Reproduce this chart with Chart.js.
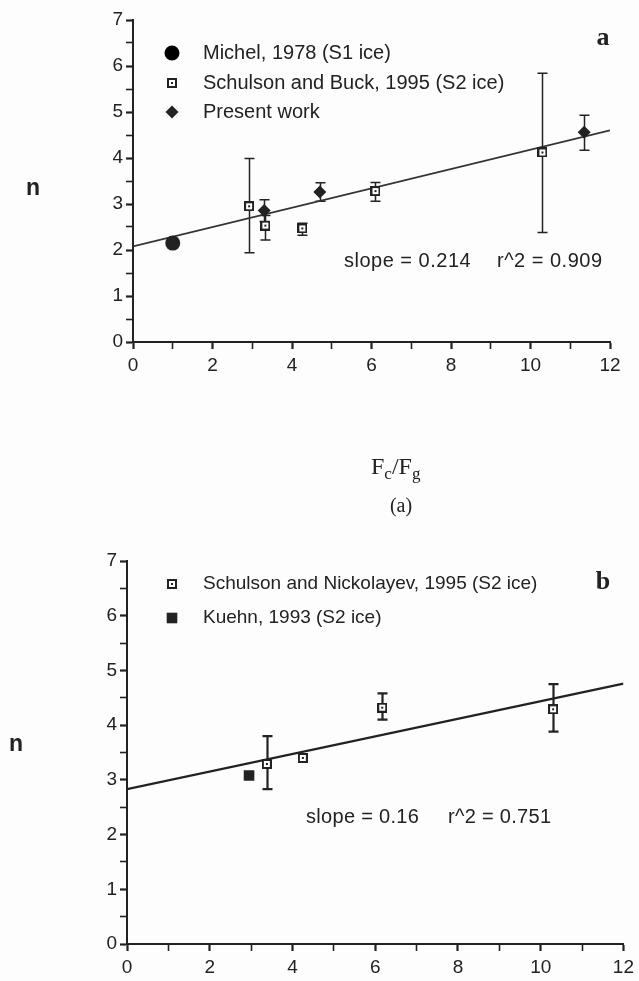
<!DOCTYPE html>
<html>
<head>
<meta charset="utf-8">
<script src="https://cdn.jsdelivr.net/npm/chart.js@4.4.0/dist/chart.umd.min.js"></script>
<style>
  html, body { margin: 0; padding: 0; background: #fdfdfd; }
  body { width: 639px; height: 981px; position: relative; overflow: hidden; }
  canvas { position: absolute; left: 0; }
  #chartA { top: 0; }
  #chartB { top: 530px; }
</style>
</head>
<body>
<canvas id="chartA" width="639" height="530"></canvas>
<canvas id="chartB" width="639" height="451"></canvas>
<script>
// ---- panel (a) ----
const michelX = [1.0];
const michelY = [2.15];
const buckX = [2.92, 3.33, 4.26, 6.1, 10.3];
const buckY = [2.95, 2.53, 2.47, 3.28, 4.12];
const buckLow = [1.94, 2.22, 2.32, 3.06, 2.38];
const buckHigh = [3.99, 2.75, 2.58, 3.47, 5.84];
const presentX = [3.3, 4.7, 11.35];
const presentY = [2.86, 3.26, 4.56];
const presentLow = [2.62, 3.06, 4.17];
const presentHigh = [3.09, 3.46, 4.93];
const fitAX = [0, 12];
const fitAY = [2.08, 4.6];

// ---- panel (b) ----
const nickX = [3.38, 4.25, 6.17, 10.3];
const nickY = [3.29, 3.4, 4.32, 4.29];
const nickLow = [2.83, null, 4.1, 3.88];
const nickHigh = [3.8, null, 4.58, 4.75];
const kuehnX = [2.95];
const kuehnY = [3.08];
const fitBX = [0, 12];
const fitBY = [2.83, 4.76];

const xTicks = [0, 2, 4, 6, 8, 10, 12];
const yTicks = [0, 1, 2, 3, 4, 5, 6, 7];

const ink = '#222';
const sans = "'Liberation Sans', Arial, sans-serif";
const serif = "'Liberation Serif', 'Times New Roman', serif";

const pts = (xs, ys) => xs.map((x, i) => ({ x: x, y: ys[i] }));

// open square with a dot in the middle
function openSquare(size) {
  const c = document.createElement('canvas');
  c.width = size; c.height = size;
  const g = c.getContext('2d');
  g.fillStyle = '#fff';
  g.fillRect(0, 0, size, size);
  g.strokeStyle = ink;
  g.lineWidth = 2;
  g.strokeRect(1, 1, size - 2, size - 2);
  g.fillStyle = ink;
  g.fillRect(size / 2 - 1, size / 2 - 1, 2, 2);
  return c;
}
const squareMark = openSquare(10);

const errorBars = {
  id: 'errorBars',
  beforeDatasetsDraw(chart) {
    const ctx = chart.ctx, x = chart.scales.x, y = chart.scales.y;
    ctx.save();
    chart.data.datasets.forEach(ds => {
      if (!ds.errLow) return;
      ds.data.forEach((p, i) => {
        if (ds.errLow[i] == null) return;
        const px = Math.round(x.getPixelForValue(p.x)) + 0.5;
        const y1 = y.getPixelForValue(ds.errLow[i]);
        const y2 = y.getPixelForValue(ds.errHigh[i]);
        ctx.strokeStyle = ink;
        ctx.lineWidth = ds.errWidth || 1.5;
        ctx.beginPath();
        ctx.moveTo(px, y1); ctx.lineTo(px, y2);
        ctx.moveTo(px - 5, y1); ctx.lineTo(px + 5, y1);
        ctx.moveTo(px - 5, y2); ctx.lineTo(px + 5, y2);
        ctx.stroke();
      });
    });
    ctx.restore();
  }
};

const textLayer = {
  id: 'textLayer',
  afterDraw(chart, args, opts) {
    const ctx = chart.ctx;
    ctx.save();
    ctx.textBaseline = 'middle';
    // legend
    (opts.legend || []).forEach(item => {
      const ds = chart.data.datasets[item.ds];
      Chart.helpers.drawPoint(ctx, {
        pointStyle: ds.pointStyle,
        radius: ds.pointRadius,
        rotation: 0,
        borderWidth: 0
      }, item.mx, item.y);
      ctx.fillStyle = ink;
      ctx.font = opts.legendFont;
      ctx.textAlign = 'left';
      ctx.fillText(ds.label, item.tx, item.y);
    });
    // free text
    (opts.notes || []).forEach(n => {
      ctx.fillStyle = ink;
      ctx.font = n.font;
      ctx.textAlign = n.align || 'left';
      if ('letterSpacing' in ctx) ctx.letterSpacing = n.spacing || '0px';
      ctx.fillText(n.text, n.x, n.y);
    });
    if ('letterSpacing' in ctx) ctx.letterSpacing = '0px';
    // axis title Fc/Fg with subscripts
    if (opts.xTitle) {
      const t = opts.xTitle;
      let cx = t.x;
      ctx.textAlign = 'left';
      ctx.textBaseline = 'alphabetic';
      t.parts.forEach(p => {
        ctx.font = (p.sub ? '17px ' : '24px ') + serif;
        ctx.fillText(p.s, cx, t.y + (p.sub ? 5 : 0));
        cx += ctx.measureText(p.s).width;
      });
    }
    ctx.restore();
  }
};

function axes(yWidth, xHeight) {
  return {
    x: {
      type: 'linear', min: 0, max: 12,
      afterFit: s => { s.height = xHeight; },
      border: { color: ink, width: 2 },
      grid: {
        drawOnChartArea: false, drawTicks: true, tickLength: 7, tickColor: ink,
        tickWidth: c => (c.tick && xTicks.includes(c.tick.value)) ? 2.2 : 1.6
      },
      ticks: {
        stepSize: 1, autoSkip: false, maxRotation: 0, padding: 5, color: ink,
        font: { family: sans, size: 19 },
        callback: v => xTicks.includes(v) ? String(v) : ''
      }
    },
    y: {
      type: 'linear', min: 0, max: 7,
      afterFit: s => { s.width = yWidth; },
      border: { color: ink, width: 2 },
      grid: {
        drawOnChartArea: false, drawTicks: true, tickLength: 7, tickColor: ink,
        tickWidth: c => (c.tick && yTicks.includes(c.tick.value)) ? 2.2 : 1.6
      },
      ticks: {
        stepSize: 0.5, autoSkip: false, padding: 3, color: ink,
        font: { family: sans, size: 19 },
        callback: v => yTicks.includes(v) ? String(v) : ''
      }
    }
  };
}

new Chart(document.getElementById('chartA'), {
  type: 'scatter',
  data: {
    datasets: [
      { label: 'Michel, 1978 (S1 ice)', data: pts(michelX, michelY),
        pointStyle: 'circle', pointRadius: 7.5, backgroundColor: ink, borderColor: ink, borderWidth: 0 },
      { label: 'Schulson and Buck, 1995 (S2 ice)', data: pts(buckX, buckY),
        pointStyle: squareMark, pointRadius: 5, errLow: buckLow, errHigh: buckHigh, errWidth: 1.5 },
      { label: 'Present work', data: pts(presentX, presentY),
        pointStyle: 'rectRot', pointRadius: 6.5, backgroundColor: ink, borderColor: ink, borderWidth: 0,
        errLow: presentLow, errHigh: presentHigh, errWidth: 1.5 },
      { label: 'fit', type: 'line', data: pts(fitAX, fitAY), showLine: true,
        pointRadius: 0, borderColor: '#333', borderWidth: 1.8, fill: false }
    ]
  },
  options: {
    responsive: false, animation: false, events: [],
    layout: { padding: { left: 0, right: 29, top: 20, bottom: 130 } },
    scales: axes(133, 58),
    plugins: {
      legend: { display: false }, tooltip: { enabled: false },
      textLayer: {
        legendFont: '20px ' + sans,
        legend: [
          { ds: 0, mx: 172, tx: 203, y: 53 },
          { ds: 1, mx: 172, tx: 203, y: 83 },
          { ds: 2, mx: 172, tx: 203, y: 112 }
        ],
        notes: [
          { text: 'a', x: 603, y: 38, font: 'bold 26px ' + serif, align: 'center' },
          { text: 'n', x: 33, y: 189, font: 'bold 23px ' + sans, align: 'center' },
          { text: 'slope = 0.214', x: 344, y: 261, font: '20px ' + sans, spacing: '0.5px' },
          { text: 'r^2 = 0.909', x: 497, y: 261, font: '20px ' + sans, spacing: '0.5px' },
          { text: '(a)', x: 401, y: 507, font: '20px ' + serif, align: 'center' }
        ],
        xTitle: { x: 371, y: 474, parts: [{ s: 'F' }, { s: 'c', sub: true }, { s: '/F' }, { s: 'g', sub: true }] }
      }
    }
  },
  plugins: [errorBars, textLayer]
});

new Chart(document.getElementById('chartB'), {
  type: 'scatter',
  data: {
    datasets: [
      { label: 'Schulson and Nickolayev, 1995 (S2 ice)', data: pts(nickX, nickY),
        pointStyle: squareMark, pointRadius: 5, errLow: nickLow, errHigh: nickHigh, errWidth: 2.2 },
      { label: 'Kuehn, 1993 (S2 ice)', data: pts(kuehnX, kuehnY),
        pointStyle: 'rect', pointRadius: 7.5, backgroundColor: ink, borderColor: ink, borderWidth: 0 },
      { label: 'fit', type: 'line', data: pts(fitBX, fitBY), showLine: true,
        pointRadius: 0, borderColor: ink, borderWidth: 2.4, fill: false }
    ]
  },
  options: {
    responsive: false, animation: false, events: [],
    layout: { padding: { left: 0, right: 15, top: 31, bottom: 0 } },
    scales: axes(127, 37),
    plugins: {
      legend: { display: false }, tooltip: { enabled: false },
      textLayer: {
        legendFont: '19px ' + sans,
        legend: [
          { ds: 0, mx: 172, tx: 203, y: 54 },
          { ds: 1, mx: 172, tx: 203, y: 88 }
        ],
        notes: [
          { text: 'b', x: 603, y: 52, font: 'bold 26px ' + serif, align: 'center' },
          { text: 'n', x: 16, y: 215, font: 'bold 23px ' + sans, align: 'center' },
          { text: 'slope = 0.16', x: 306, y: 287, font: '20px ' + sans, spacing: '0.3px' },
          { text: 'r^2 = 0.751', x: 448, y: 287, font: '20px ' + sans, spacing: '0.3px' }
        ]
      }
    }
  },
  plugins: [errorBars, textLayer]
});
</script>
</body>
</html>
